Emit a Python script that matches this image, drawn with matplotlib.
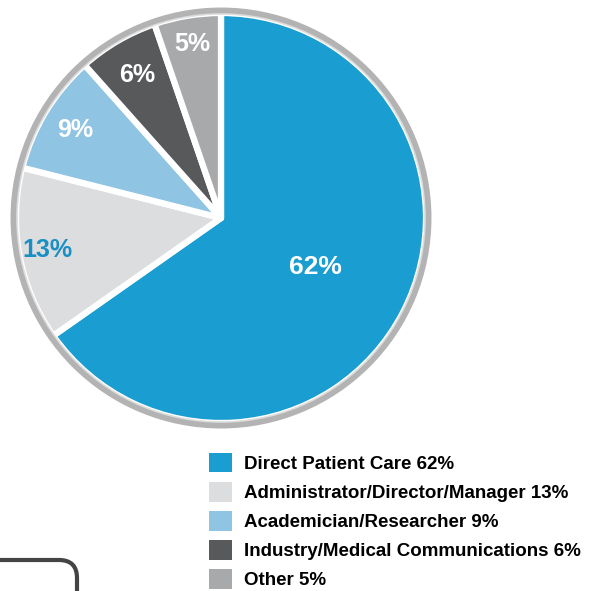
import numpy as np
import matplotlib.pyplot as plt
from matplotlib.patches import Circle, FancyBboxPatch, Patch

categories = ['Direct Patient Care', 'Administrator/Director/Manager',
              'Academician/Researcher', 'Industry/Medical Communications', 'Other']
shares = [62, 13, 9, 6, 5]

colors = ['#1a9dd0', '#dcdddf', '#8fc4e3', '#58595b', '#a8a9ab']
label_colors = ['white', '#1a8fc4', 'white', 'white', 'white']
label_dist = [0.52, 0.86, 0.83, 0.81, 0.86]

plt.rcParams['font.family'] = ['Liberation Sans', 'DejaVu Sans']

fig = plt.figure(figsize=(5.97, 5.91), dpi=100)
ax = fig.add_axes([0, 0, 1, 1])

cx, cy, r = 221, 591 - 218, 205
wedges, _ = ax.pie(shares, center=(cx, cy), radius=r, startangle=90,
                   counterclock=False, colors=colors,
                   wedgeprops=dict(edgecolor='white', linewidth=4.5, joinstyle='round'))

# rim
ax.add_patch(Circle((cx, cy), r + 2, fill=False, edgecolor='#b3b3b3', lw=5))
ax.add_patch(Circle((cx, cy), r - 1, fill=False, edgecolor='#e6e6e6', lw=1.2, alpha=0.8))

for w, v, c, d in zip(wedges, shares, label_colors, label_dist):
    mid = np.deg2rad((w.theta1 + w.theta2) / 2)
    size = 19 if v == max(shares) else 18
    ax.text(cx + d * r * np.cos(mid), cy + d * r * np.sin(mid), f'{v}%',
            ha='center', va='center', color=c, fontsize=size, fontweight='bold')

handles = [Patch(facecolor=c, edgecolor='none') for c in colors]
labels = [f'{n} {v}%' for n, v in zip(categories, shares)]
fig.legend(handles, labels, loc='upper left', bbox_to_anchor=(209 / 597, 1 - 453 / 591),
           frameon=False, prop={'weight': 'bold', 'size': 13.5},
           handlelength=1.22, handleheight=1.22, handletextpad=0.62,
           labelspacing=0.48, borderaxespad=0, borderpad=0)

# corner of a box at bottom left
ax.add_patch(FancyBboxPatch((-300, -200), 377, 231,
                            boxstyle='round,pad=0,rounding_size=18',
                            fill=False, edgecolor='#444444', lw=3))

ax.set_xlim(0, 597)
ax.set_ylim(0, 591)
ax.axis('off')

plt.savefig('out.png', dpi=100)
